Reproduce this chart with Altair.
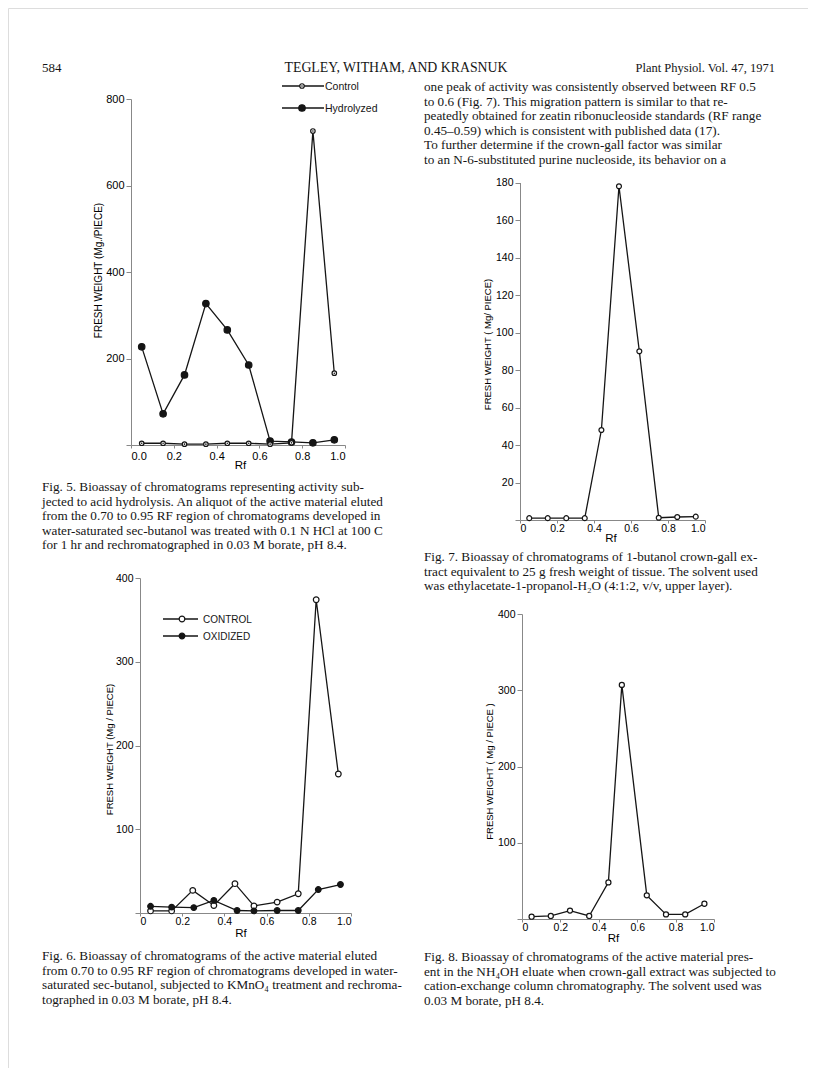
import altair as alt
import pandas as pd

# ---------------- data read from the page ----------------
# Fig. 5
rf5 = [0.05, 0.15, 0.25, 0.35, 0.45, 0.55, 0.65, 0.75, 0.85, 0.95]
control5 = [4, 4, 2, 2, 4, 4, 2, 5, 726, 166]
hydrolyzed5 = [227, 72, 162, 327, 266, 185, 9, 7, 5, 12]

# Fig. 6
rf6_control = [0.05, 0.15, 0.25, 0.35, 0.45, 0.54, 0.65, 0.75, 0.835, 0.94]
control6 = [2.5, 2.5, 27, 9, 35, 8.5, 13, 23, 374, 166]
rf6_oxidized = [0.05, 0.15, 0.255, 0.35, 0.46, 0.54, 0.65, 0.75, 0.845, 0.95]
oxidized6 = [8, 7, 6.5, 15, 3, 2.5, 3, 3, 28, 34]

# Fig. 7
rf7 = [0.05, 0.15, 0.25, 0.35, 0.44, 0.535, 0.645, 0.75, 0.85, 0.95]
fw7 = [1, 1, 1, 1, 48, 178, 90, 1.2, 1.6, 1.8]

# Fig. 8
rf8 = [0.05, 0.15, 0.25, 0.35, 0.45, 0.52, 0.65, 0.75, 0.85, 0.95]
fw8 = [3, 4, 11, 4, 48, 307, 31, 6, 6, 20]

# tick values
x_ticks = [0, 0.2, 0.4, 0.6, 0.8, 1.0]
y5_ticks = [0, 200, 400, 600, 800]
y6_ticks = [0, 100, 200, 300, 400]
y7_ticks = [0, 20, 40, 60, 80, 100, 120, 140, 160, 180]
y8_ticks = [0, 100, 200, 300, 400]

# texts
header_left = "584"
header_mid = "TEGLEY, WITHAM, AND KRASNUK"
header_right = "Plant Physiol. Vol. 47, 1971"
NB = "\u00a0\u00a0\u00a0\u00a0"
body_right = [
    "one peak of activity was consistently observed between RF 0.5",
    "to 0.6 (Fig. 7). This migration pattern is similar to that re-",
    "peatedly obtained for zeatin ribonucleoside standards (RF range",
    "0.45\u20130.59) which is consistent with published data (17).",
    NB + "To further determine if the crown-gall factor was similar",
    "to an N-6-substituted purine nucleoside, its behavior on a",
]
cap5 = [
    NB + "Fig. 5. Bioassay of chromatograms representing activity sub-",
    "jected to acid hydrolysis. An aliquot of the active material eluted",
    "from the 0.70 to 0.95 RF region of chromatograms developed in",
    "water-saturated sec-butanol was treated with 0.1 N HCl at 100 C",
    "for 1 hr and rechromatographed in 0.03 M borate, pH 8.4.",
]
cap6 = [
    NB + "Fig. 6. Bioassay of chromatograms of the active material eluted",
    "from 0.70 to 0.95 RF region of chromatograms developed in water-",
    "saturated sec-butanol, subjected to KMnO\u2084 treatment and rechroma-",
    "tographed in 0.03 M borate, pH 8.4.",
]
cap7 = [
    NB + "Fig. 7. Bioassay of chromatograms of 1-butanol crown-gall ex-",
    "tract equivalent to 25 g fresh weight of tissue. The solvent used",
    "was ethylacetate-1-propanol-H\u2082O (4:1:2, v/v, upper layer).",
]
cap8 = [
    NB + "Fig. 8. Bioassay of chromatograms of the active material pres-",
    "ent in the NH\u2084OH eluate when crown-gall extract was subjected to",
    "cation-exchange column chromatography. The solvent used was",
    "0.03 M borate, pH 8.4.",
]

# ---------------- layout ----------------
W, H = 800, 1060
INK = "#151515"
SANS = "Liberation Sans"
SERIF = "Liberation Serif"
BODY = 13.2
ONE = pd.DataFrame({"k": [0]})


def encodings(xr, yr, ydom, yticks, ytitle, ytx, yty, xtx, xty, xfmt0, lsize=11, tsize=10, xpad=2):
    x_expr = "format(datum.value, '.1f')" if xfmt0 else "datum.value == 0 ? '0' : format(datum.value, '.1f')"
    X = alt.X("rf:Q",
              scale=alt.Scale(domain=[0, 1], range=xr, nice=False, zero=False),
              axis=alt.Axis(orient="bottom", offset=yr[0] - H, values=x_ticks, labelExpr=x_expr,
                            grid=False, tickSize=3, labelPadding=xpad, labelFontSize=lsize,
                            title="Rf", titleX=(xr[0] + xr[1]) / 2 + xtx, titleY=xty,
                            titleAlign="center", titleBaseline="middle", titleFontSize=11.5,
                            titleFontWeight="normal"))
    Y = alt.Y("fw:Q",
              scale=alt.Scale(domain=ydom, range=yr, nice=False, zero=False),
              axis=alt.Axis(orient="left", offset=-xr[0], values=yticks,
                            labelExpr="datum.value == 0 ? '' : datum.label",
                            grid=False, tickSize=5, labelPadding=2, labelFontSize=lsize,
                            title=ytitle, titleAngle=270, titleX=ytx, titleY=yty,
                            titleAlign="center", titleBaseline="middle", titleFontSize=tsize,
                            titleFontWeight="normal"))
    return X, Y


def line_layer(df, X, Y):
    return alt.Chart(df).mark_line(color=INK, strokeWidth=1.3).encode(x=X, y=Y)


def pts_layer(df, X, Y, size, filled):
    return alt.Chart(df).mark_circle(size=size, fill=INK if filled else "white", stroke=INK,
                                     strokeWidth=1.2, opacity=1).encode(x=X, y=Y)


def dot_layer(df, X, Y):
    return alt.Chart(df).mark_circle(size=2.5, color=INK, opacity=1).encode(x=X, y=Y)


def text(lines, x, y, size=BODY, align="left", font=SERIF, lh=14.5, weight="normal"):
    return alt.Chart(ONE).mark_text(text=lines, align=align, baseline="alphabetic", font=font,
                                    fontSize=size, lineHeight=lh, color=INK,
                                    fontWeight=weight).encode(x=alt.value(x), y=alt.value(y))


def leg_rule(x1, x2, y):
    return alt.Chart(ONE).mark_rule(color=INK, strokeWidth=1.3).encode(
        x=alt.value(x1), x2=alt.value(x2), y=alt.value(y))


def leg_mark(x, y, size, filled):
    return alt.Chart(ONE).mark_circle(size=size, fill=INK if filled else "white", stroke=INK,
                                      strokeWidth=1.2, opacity=1).encode(x=alt.value(x), y=alt.value(y))


# ---- Fig 5
d5c = pd.DataFrame({"rf": rf5, "fw": control5})
d5h = pd.DataFrame({"rf": rf5, "fw": hydrolyzed5})
X5, Y5 = encodings([123, 337], [437, 91], [0, 800], y5_ticks, "FRESH WEIGHT (Mg./PIECE)",
                   -33, 262, 2, 20, True)
fig5 = alt.layer(line_layer(d5h, X5, Y5), line_layer(d5c, X5, Y5),
                 pts_layer(d5h, X5, Y5, 42, True), pts_layer(d5c, X5, Y5, 20, False),
                 dot_layer(d5c, X5, Y5))

# ---- Fig 6
d6c = pd.DataFrame({"rf": rf6_control, "fw": control6})
d6o = pd.DataFrame({"rf": rf6_oxidized, "fw": oxidized6})
X6, Y6 = encodings([132, 343], [905, 570], [0, 400], y6_ticks, "FRESH WEIGHT (Mg / PIECE)",
                   -31, 741, -5, 20, False, lsize=10.5, tsize=9.5, xpad=0)
fig6 = alt.layer(line_layer(d6c, X6, Y6), line_layer(d6o, X6, Y6),
                 pts_layer(d6c, X6, Y6, 32, False), pts_layer(d6o, X6, Y6, 32, True))

# ---- Fig 7
d7 = pd.DataFrame({"rf": rf7, "fw": fw7})
X7, Y7 = encodings([512, 697], [512, 174.5], [0, 180], y7_ticks, "FRESH WEIGHT ( Mg/ PIECE)",
                   -33, 336, -2, 18, False, lsize=10.5, tsize=9.5, xpad=0)
fig7 = alt.layer(line_layer(d7, X7, Y7), pts_layer(d7, X7, Y7, 24, False))

# ---- Fig 8
d8 = pd.DataFrame({"rf": rf8, "fw": fw8})
X8, Y8 = encodings([514, 706], [911, 606], [0, 400], y8_ticks, "FRESH WEIGHT ( Mg / PIECE )",
                   -33, 763, -5, 19, False, lsize=10.5, tsize=9.5, xpad=0)
fig8 = alt.layer(line_layer(d8, X8, Y8), pts_layer(d8, X8, Y8, 26, False))

figs = alt.layer(fig5, fig6, fig7, fig8).resolve_scale(x="independent", y="independent")

# ---- annotations (legends, captions, page header)
annot = alt.layer(
    # Fig 5 legend
    leg_rule(274, 316, 78), leg_mark(294, 78, 20, False),
    alt.Chart(ONE).mark_circle(size=2.5, color=INK, opacity=1).encode(x=alt.value(294), y=alt.value(78)),
    text(["Control"], 317, 82, size=10.5, font=SANS),
    leg_rule(274, 316, 100), leg_mark(294, 100, 42, True),
    text(["Hydrolyzed"], 317, 104, size=10.5, font=SANS),
    # Fig 6 legend
    leg_rule(155, 190, 611), leg_mark(174, 611, 32, False),
    text(["CONTROL"], 195, 615, size=10, font=SANS),
    leg_rule(155, 190, 628), leg_mark(174, 628, 32, True),
    text(["OXIDIZED"], 195, 632, size=10, font=SANS),
    # header
    text([header_left], 34, 64, size=13),
    text([header_mid], 388, 64, size=13.8, align="center"),
    text([header_right], 767, 64, size=12.5, align="right"),
    # body text and captions
    text(body_right, 416, 83),
    text(cap5, 34, 483),
    text(cap6, 34, 952),
    text(cap7, 416, 553),
    text(cap8, 416, 953),
)

chart = alt.layer(figs, annot).properties(width=W, height=H, padding=0).configure_view(
    stroke=None).configure_axis(
    grid=False, domainColor=INK, domainWidth=1.5, tickColor=INK, tickWidth=1.3,
    labelColor=INK, labelFont=SANS, titleFont=SANS, titleColor=INK, titleFontWeight="normal",
    labelFlush=False, labelOverlap=False).configure(background="white")

chart.save("out.html", embed_options={"renderer": "svg", "actions": False})
